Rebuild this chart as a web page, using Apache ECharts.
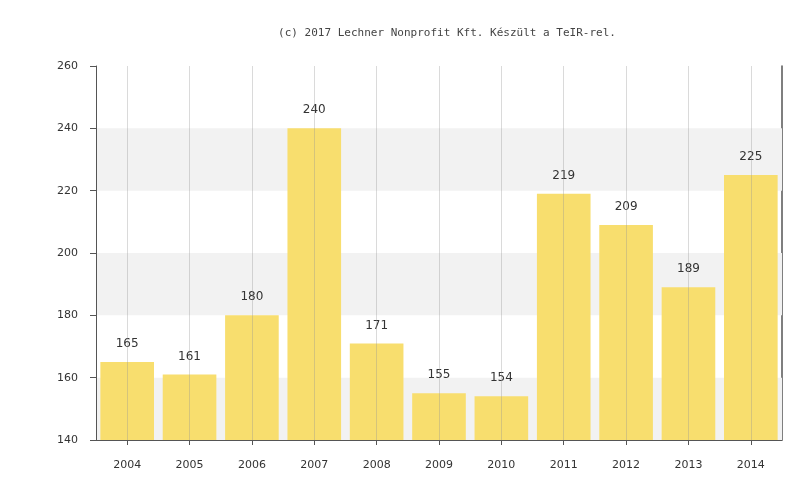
<!DOCTYPE html>
<html>
<head>
<meta charset="utf-8">
<script src="https://cdn.jsdelivr.net/npm/echarts@6/dist/echarts.min.js"></script>
<style>
  html, body { margin: 0; padding: 0; background: #ffffff; }
  #chart { width: 799px; height: 491px; }
</style>
</head>
<body>
<div id="chart"></div>
<script>
// Years along the horizontal axis
const years = ['2004', '2005', '2006', '2007', '2008', '2009', '2010', '2011', '2012', '2013', '2014'];
// Yearly values
const values = [165, 161, 180, 240, 171, 155, 154, 219, 209, 189, 225];
// Vertical scale
const yMin = 140;
const yMax = 260;
const yStep = 20;
const creditText = '(c) 2017 Lechner Nonprofit Kft. Készült a TeIR-rel.';

const chart = echarts.init(document.getElementById('chart'), null, { renderer: 'canvas' });

// one faint vertical guide through the centre of every year
const yearGuides = years.map(function (y) { return { xAxis: y }; });

chart.setOption({
  animation: false,
  backgroundColor: '#ffffff',
  title: {
    text: creditText,
    left: 442,
    top: 23,
    textAlign: 'center',
    textStyle: { fontFamily: 'DejaVu Sans Mono', fontSize: 11, fontWeight: 'normal', color: '#444444' }
  },
  grid: { left: 96, right: 17, top: 66, bottom: 51, containLabel: false },
  xAxis: {
    type: 'category',
    data: years,
    z: 3,
    axisLine: { lineStyle: { color: '#555555', width: 1 } },
    axisTick: { show: true, alignWithLabel: true, length: 5, lineStyle: { color: '#555555' } },
    axisLabel: { fontFamily: 'DejaVu Sans', fontSize: 11, color: '#333333', margin: 20 },
    splitLine: { show: false }
  },
  yAxis: [
    {
      type: 'value',
      min: yMin,
      max: yMax,
      interval: yStep,
      z: 1,
      axisLine: { show: true, lineStyle: { color: '#555555', width: 1 } },
      axisTick: { show: true, length: 6, lineStyle: { color: '#555555' } },
      axisLabel: { fontFamily: 'DejaVu Sans', fontSize: 11, color: '#333333', margin: 18 },
      splitLine: { show: false },
      splitArea: { show: true, areaStyle: { color: ['#f2f2f2', 'rgba(255,255,255,0)'] } }
    },
    {
      type: 'value',
      position: 'right',
      min: yMin,
      max: yMax,
      interval: yStep,
      z: 0,
      axisLine: { show: true, lineStyle: { color: '#555555', width: 1.5 } },
      axisTick: { show: false },
      axisLabel: { show: false },
      splitLine: { show: false }
    }
  ],
  series: [
    {
      type: 'bar',
      data: values,
      yAxisIndex: 0,
      barCategoryGap: '14%',
      itemStyle: { color: '#f8de6e' },
      label: {
        show: true,
        position: 'top',
        distance: 12,
        fontFamily: 'DejaVu Sans',
        fontSize: 12,
        color: '#333333'
      },
      markLine: {
        silent: true,
        symbol: 'none',
        label: { show: false },
        lineStyle: { type: 'solid', color: 'rgba(150,150,150,0.35)', width: 1 },
        data: yearGuides
      }
    }
  ]
});
</script>
</body>
</html>
